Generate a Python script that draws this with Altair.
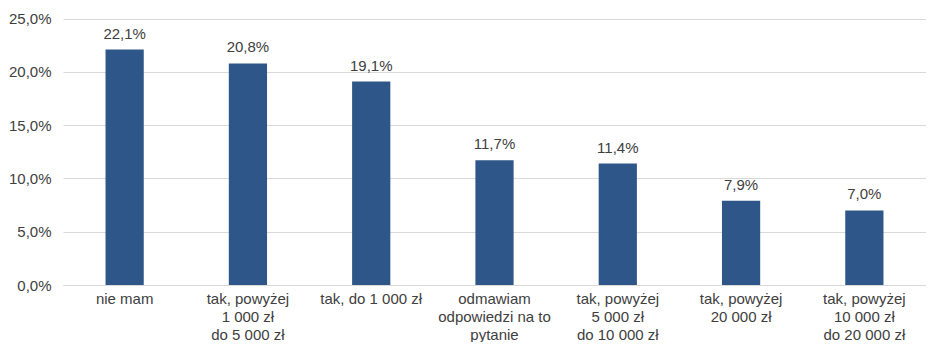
import altair as alt
import pandas as pd

categories = ["nie mam", "tak, powyżej|1 000 zł|do 5 000 zł", "tak, do 1 000 zł",
              "odmawiam|odpowiedzi na to|pytanie", "tak, powyżej|5 000 zł|do 10 000 zł",
              "tak, powyżej|20 000 zł", "tak, powyżej|10 000 zł|do 20 000 zł"]
values = [22.1, 20.8, 19.1, 11.7, 11.4, 7.9, 7.0]
labels = [f"{v:.1f}%".replace(".", ",") for v in values]

df = pd.DataFrame({"cat": categories, "val": values, "lab": labels})

FONT = "Liberation Sans"
TXT = "#404040"

x = alt.X("cat:N", sort=categories, title=None,
          scale=alt.Scale(paddingInner=0.69, paddingOuter=0.345),
          axis=alt.Axis(labelExpr="split(datum.label, '|')", labelAngle=0,
                        labelFontSize=15, labelFont=FONT, labelColor=TXT,
                        labelLineHeight=18, labelPadding=6, ticks=False,
                        domainColor="#D9D9D9", labelBaseline="top"))
y = alt.Y("val:Q", title=None,
          scale=alt.Scale(domain=[0, 25]),
          axis=alt.Axis(values=[0, 5, 10, 15, 20, 25],
                        labelExpr="replace(format(datum.value, '.1f'), '.', ',') + '%'",
                        labelFontSize=15, labelFont=FONT, labelColor=TXT,
                        labelPadding=12, ticks=False, domain=False,
                        gridColor="#D9D9D9", gridWidth=1))

bars = alt.Chart(df).mark_bar(color="#2F5689").encode(x=x, y=y)
text = alt.Chart(df).mark_text(baseline="bottom", dy=-8, fontSize=15, font=FONT,
                               color=TXT).encode(x=alt.X("cat:N", sort=categories),
                                                 y="val:Q", text="lab:N")

chart = (bars + text).properties(
    width=918, height=334,
    autosize=alt.AutoSizeParams(type="fit", contains="padding"),
    padding={"left": 0, "top": 0, "right": 0, "bottom": 0},
).configure_view(stroke=None)

chart.save("out.html", embed_options={"renderer": "svg", "actions": False})
